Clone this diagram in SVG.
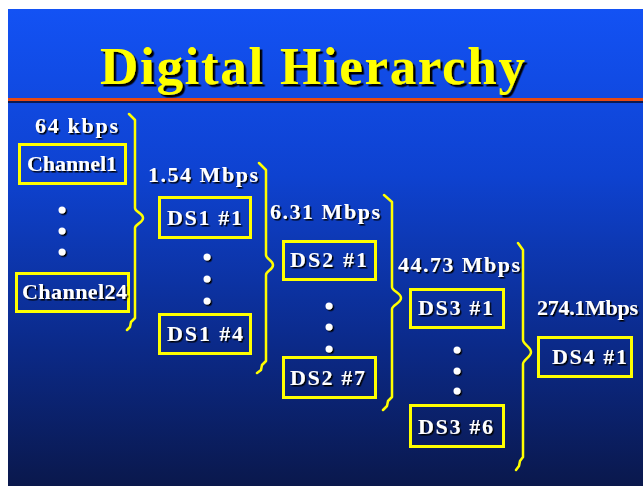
<svg xmlns="http://www.w3.org/2000/svg" width="643" height="486" viewBox="0 0 643 486">
  <defs>
    <linearGradient id="bg" x1="0" y1="0" x2="0" y2="1">
      <stop offset="0" stop-color="#1352f4"/>
      <stop offset="0.35" stop-color="#0e42d0"/>
      <stop offset="0.7" stop-color="#0b2a8a"/>
      <stop offset="1" stop-color="#0a184c"/>
    </linearGradient>
    <filter id="shadow" x="-10%" y="-20%" width="130%" height="150%">
      <feDropShadow dx="1.5" dy="1.5" stdDeviation="0" flood-color="#000000"/>
    </filter>
    <filter id="titleShadow" x="-10%" y="-20%" width="130%" height="150%">
      <feDropShadow dx="2.5" dy="2.5" stdDeviation="0" flood-color="#000000"/>
    </filter>
  </defs>
  <style>
    .title { font-family: "Liberation Serif", "Times New Roman", serif; font-weight: bold; font-size: 53px; fill: #ffff00; }
    .lbl { font-family: "Liberation Serif", "Times New Roman", serif; font-weight: bold; font-size: 22px; fill: #ffffff; }
    .box { fill: none; stroke: #ffff00; stroke-width: 3; }
    .brace { fill: none; stroke: #ffff00; stroke-width: 2.5; stroke-linejoin: round; stroke-linecap: round; }
    .dot { fill: #ffffff; }
  </style>

  <!-- page and slide background -->
  <rect x="0" y="0" width="643" height="486" fill="#ffffff"/>
  <rect x="8" y="9" width="635" height="477" fill="url(#bg)"/>

  <!-- title and rule -->
  <g id="title">
    <text class="title" x="100" y="84" textLength="425" lengthAdjust="spacing" filter="url(#titleShadow)">Digital Hierarchy</text>
    <rect x="8" y="101" width="635" height="2" fill="#0a1a55"/>
    <rect x="8" y="98" width="635" height="3" fill="#e84a12"/>
  </g>

  <!-- bit-rate labels -->
  <g id="rates" filter="url(#shadow)">
    <text class="lbl" x="35" y="133" textLength="83" lengthAdjust="spacing">64 kbps</text>
    <text class="lbl" x="148" y="182" textLength="110" lengthAdjust="spacing">1.54 Mbps</text>
    <text class="lbl" x="270" y="219" textLength="110" lengthAdjust="spacing">6.31 Mbps</text>
    <text class="lbl" x="398" y="272" textLength="122" lengthAdjust="spacing">44.73 Mbps</text>
    <text class="lbl" x="537" y="315" textLength="101" lengthAdjust="spacing">274.1Mbps</text>
  </g>

  <!-- level 0: voice channels -->
  <g id="channel1">
    <rect class="box" x="19.5" y="144.5" width="106" height="39"/>
    <text class="lbl" x="27" y="171" textLength="90" lengthAdjust="spacing" filter="url(#shadow)">Channel1</text>
  </g>
  <g id="channel24">
    <rect class="box" x="16.5" y="273.5" width="112" height="38"/>
    <text class="lbl" x="22" y="299" textLength="105" lengthAdjust="spacing" filter="url(#shadow)">Channel24</text>
  </g>

  <!-- level 1 -->
  <g id="ds1-1">
    <rect class="box" x="159.5" y="197.5" width="91" height="40"/>
    <text class="lbl" x="167" y="225" textLength="75" lengthAdjust="spacing" filter="url(#shadow)">DS1 #1</text>
  </g>
  <g id="ds1-4">
    <rect class="box" x="159.5" y="314.5" width="91" height="39"/>
    <text class="lbl" x="167" y="341" textLength="76" lengthAdjust="spacing" filter="url(#shadow)">DS1 #4</text>
  </g>

  <!-- level 2 -->
  <g id="ds2-1">
    <rect class="box" x="283.5" y="241.5" width="92" height="38"/>
    <text class="lbl" x="290" y="267" textLength="77" lengthAdjust="spacing" filter="url(#shadow)">DS2 #1</text>
  </g>
  <g id="ds2-7">
    <rect class="box" x="283.5" y="357.5" width="92" height="40"/>
    <text class="lbl" x="290" y="385" textLength="75" lengthAdjust="spacing" filter="url(#shadow)">DS2 #7</text>
  </g>

  <!-- level 3 -->
  <g id="ds3-1">
    <rect class="box" x="410.5" y="289.5" width="93" height="38"/>
    <text class="lbl" x="418" y="315" textLength="75" lengthAdjust="spacing" filter="url(#shadow)">DS3 #1</text>
  </g>
  <g id="ds3-6">
    <rect class="box" x="410.5" y="405.5" width="93" height="41"/>
    <text class="lbl" x="418" y="434" textLength="75" lengthAdjust="spacing" filter="url(#shadow)">DS3 #6</text>
  </g>

  <!-- level 4 -->
  <g id="ds4-1">
    <rect class="box" x="538.5" y="337.5" width="93" height="39"/>
    <text class="lbl" x="552" y="364" textLength="75" lengthAdjust="spacing" filter="url(#shadow)">DS4 #1</text>
  </g>

  <!-- ellipsis dots between first and last member of each level -->
  <g id="ellipses" filter="url(#shadow)">
    <circle class="dot" cx="62" cy="210" r="3.5"/>
    <circle class="dot" cx="62" cy="231" r="3.5"/>
    <circle class="dot" cx="62" cy="252" r="3.5"/>
    <circle class="dot" cx="207" cy="257" r="3.5"/>
    <circle class="dot" cx="207" cy="279" r="3.5"/>
    <circle class="dot" cx="207" cy="301" r="3.5"/>
    <circle class="dot" cx="329" cy="306" r="3.5"/>
    <circle class="dot" cx="329" cy="327" r="3.5"/>
    <circle class="dot" cx="329" cy="349" r="3.5"/>
    <circle class="dot" cx="457" cy="350" r="3.5"/>
    <circle class="dot" cx="457" cy="371" r="3.5"/>
    <circle class="dot" cx="457" cy="391" r="3.5"/>
  </g>

  <!-- multiplexing braces -->
  <g id="connectors">
    <path class="brace" d="M129,114 L135,120 L135,208 C135,212 143,213 143,218 C143,223 135,224 135,228 L135,318 L131,322 L130,327 L127,330"/>
    <path class="brace" d="M259,163 L266,170 L266,255 C266,259 273,260 273,265 C273,270 266,271 266,275 L266,361 L262,365 L261,370 L257,373"/>
    <path class="brace" d="M384,195 L392,202 L392,287 C392,291 401,293 401,298 C401,303 392,305 392,309 L392,397 L388,401 L387,406 L383,410"/>
    <path class="brace" d="M518,243 L523,250 L523,340 C523,344 531,347 531,352 C531,357 523,360 523,364 L523,457 L520,461 L519,466 L516,470"/>
  </g>
</svg>
